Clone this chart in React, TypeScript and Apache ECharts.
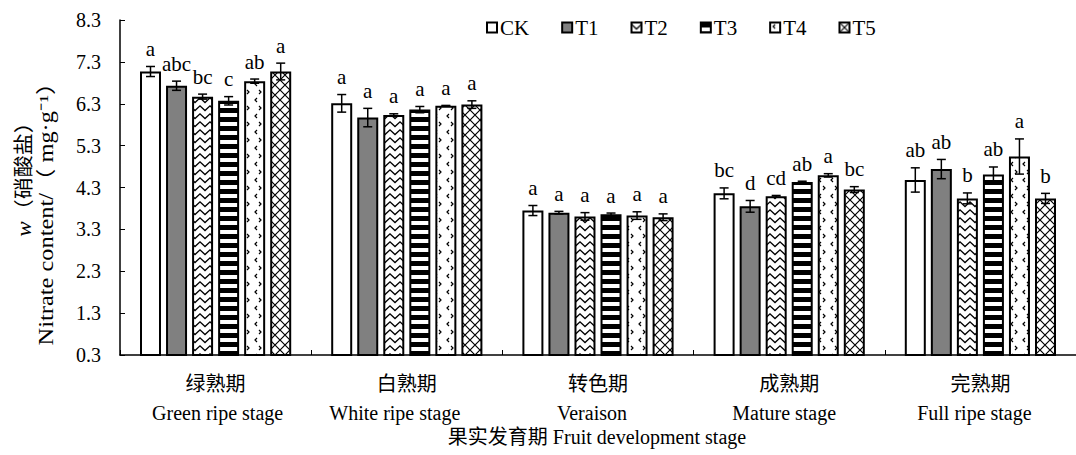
import React, { useEffect, useRef } from 'react';
import * as echarts from 'echarts';

const categoriesCn = ['绿熟期', '白熟期', '转色期', '成熟期', '完熟期'];
const categoriesEn = ['Green ripe stage', 'White ripe stage', 'Veraison', 'Mature stage', 'Full ripe stage'];
const seriesNames = ['CK', 'T1', 'T2', 'T3', 'T4', 'T5'];

const valuesCK = [7.07, 6.31, 3.75, 4.16, 4.48];
const valuesT1 = [6.73, 5.97, 3.70, 3.85, 4.74];
const valuesT2 = [6.47, 6.03, 3.61, 4.09, 4.04];
const valuesT3 = [6.37, 6.16, 3.66, 4.43, 4.61];
const valuesT4 = [6.84, 6.25, 3.63, 4.59, 5.04];
const valuesT5 = [7.07, 6.28, 3.59, 4.25, 4.04];

const errorsCK = [0.12, 0.21, 0.12, 0.13, 0.29];
const errorsT1 = [0.11, 0.22, 0.03, 0.14, 0.23];
const errorsT2 = [0.06, 0.03, 0.09, 0.02, 0.13];
const errorsT3 = [0.1, 0.075, 0.03, 0.02, 0.18];
const errorsT4 = [0.05, 0.01, 0.09, 0.04, 0.42];
const errorsT5 = [0.2, 0.09, 0.08, 0.07, 0.12];

const lettersCK = ['a', 'a', 'a', 'bc', 'ab'];
const lettersT1 = ['abc', 'a', 'a', 'd', 'ab'];
const lettersT2 = ['bc', 'a', 'a', 'cd', 'b'];
const lettersT3 = ['c', 'a', 'a', 'ab', 'ab'];
const lettersT4 = ['ab', 'a', 'a', 'a', 'a'];
const lettersT5 = ['a', 'a', 'a', 'bc', 'b'];

const yMin = 0.3;
const yMax = 8.3;
const yInterval = 1;

const allValues = [valuesCK, valuesT1, valuesT2, valuesT3, valuesT4, valuesT5];
const allErrors = [errorsCK, errorsT1, errorsT2, errorsT3, errorsT4, errorsT5];
const allLetters = [lettersCK, lettersT1, lettersT2, lettersT3, lettersT4, lettersT5];

const SERIF = '"Liberation Serif", "Times New Roman", serif';
const CJK = '"Liberation Serif", "Noto Sans CJK SC", serif';

function makePattern(kind: string): any {
  const c = document.createElement('canvas');
  let w = 10;
  let h = 10;
  if (kind === 'chevron') { w = 10; h = 8; }
  if (kind === 'stripes') { w = 4; h = 9; }
  if (kind === 'dots') { w = 12; h = 16; }
  if (kind === 'cross') { w = 10; h = 10; }
  c.width = w;
  c.height = h;
  const g = c.getContext('2d')!;
  g.fillStyle = '#fff';
  g.fillRect(0, 0, w, h);
  g.strokeStyle = '#000';
  g.fillStyle = '#000';
  if (kind === 'chevron') {
    g.lineWidth = 1.3;
    g.beginPath();
    g.moveTo(-1, 1);
    g.lineTo(5, 6.5);
    g.lineTo(11, 1);
    g.stroke();
  } else if (kind === 'stripes') {
    g.fillRect(0, 0, w, 5);
  } else if (kind === 'dots') {
    g.lineWidth = 1.2;
    g.beginPath();
    g.moveTo(5, 2);
    g.lineTo(3, 4);
    g.lineTo(5, 6);
    g.moveTo(7, 10);
    g.lineTo(9, 12);
    g.lineTo(7, 14);
    g.stroke();
  } else if (kind === 'cross') {
    g.lineWidth = 1.2;
    g.beginPath();
    g.moveTo(-1, -1);
    g.lineTo(11, 11);
    g.moveTo(11, -1);
    g.lineTo(-1, 11);
    g.stroke();
  }
  return { image: c, repeat: 'repeat', imageWidth: w, imageHeight: h };
}

const enShift = [2, -12, -6, -5, -6];

export default function App() {
  const ref = useRef<HTMLDivElement>(null);
  useEffect(() => {
    if (!ref.current) return;
    const chart = echarts.init(ref.current, undefined, { renderer: 'svg' });
    const fills: any[] = [
      '#ffffff',
      '#808080',
      makePattern('chevron'),
      makePattern('stripes'),
      makePattern('dots'),
      makePattern('cross'),
    ];
    const barWidth = 21;
    const gapRatio = 0.24;
    const step = barWidth * (1 + gapRatio);

    const barSeries = seriesNames.map((name, s) => ({
      name,
      type: 'bar',
      barWidth,
      barGap: gapRatio * 100 + '%',
      data: allValues[s],
      itemStyle: { color: fills[s], borderColor: '#000', borderWidth: 2 },
      z: 2,
    }));

    const errSeries = seriesNames.map((name, s) => ({
      name: 'err-' + name,
      type: 'custom',
      z: 5,
      clip: false,
      data: allValues[s].map((v, i) => [i, v, allErrors[s][i]]),
      renderItem: (params: any, api: any) => {
        const ci = api.value(0);
        const v = api.value(1);
        const e = api.value(2);
        const c = api.coord([ci, v]);
        const x = c[0] + (s - 2.5) * step;
        const yTop = api.coord([ci, v + e])[1];
        const yBot = api.coord([ci, v - e])[1];
        const half = 4.5;
        const st = { stroke: '#000', lineWidth: 1.5 };
        return {
          type: 'group',
          children: [
            { type: 'line', shape: { x1: x, y1: yTop, x2: x, y2: yBot }, style: st },
            { type: 'line', shape: { x1: x - half, y1: yTop, x2: x + half, y2: yTop }, style: st },
            { type: 'line', shape: { x1: x - half, y1: yBot, x2: x + half, y2: yBot }, style: st },
            {
              type: 'text',
              x,
              y: yTop - 7,
              style: {
                text: allLetters[s][params.dataIndex],
                align: 'center',
                verticalAlign: 'bottom',
                textAlign: 'center',
                textVerticalAlign: 'bottom',
                fontSize: 21,
                fontFamily: SERIF,
                fill: '#000',
              },
            },
          ],
        };
      },
    }));

    const rich: any = {
      cn: { fontSize: 20, fontFamily: CJK, color: '#000', lineHeight: 29 },
    };
    enShift.forEach((d, i) => {
      rich['en' + i] = {
        fontSize: 20,
        fontFamily: SERIF,
        color: '#000',
        lineHeight: 29,
        padding: d < 0 ? [0, -2 * d, 0, 0] : [0, 0, 0, 2 * d],
      };
    });

    chart.setOption({
      animation: false,
      backgroundColor: '#ffffff',
      legend: {
        data: seriesNames,
        left: 486,
        top: 17,
        icon: 'rect',
        itemWidth: 10,
        itemHeight: 10,
        itemGap: 32,
        padding: 0,
        textStyle: { fontSize: 21, fontFamily: SERIF, color: '#000', padding: [0, 0, 0, -2] },
      },
      grid: { left: 120, top: 20, width: 965, height: 335, containLabel: false },
      xAxis: {
        type: 'category',
        data: categoriesCn,
        boundaryGap: true,
        axisLine: { show: true, lineStyle: { color: '#000', width: 1.5 } },
        axisTick: { show: true, inside: true, length: 5, lineStyle: { color: '#000', width: 1 } },
        axisLabel: {
          margin: 14,
          interval: 0,
          formatter: (v: string, i: number) => `{cn|${v}}\n{en${i}|${categoriesEn[i]}}`,
          rich,
        },
      },
      yAxis: {
        type: 'value',
        min: yMin,
        max: yMax,
        interval: yInterval,
        splitLine: { show: false },
        axisLine: { show: true, lineStyle: { color: '#000', width: 1.5 } },
        axisTick: { show: true, inside: true, length: 5, lineStyle: { color: '#000', width: 1 } },
        axisLabel: {
          margin: 19,
          fontSize: 20,
          fontFamily: SERIF,
          color: '#000',
          formatter: (v: number) => v.toFixed(1),
        },
      },
      graphic: [
        {
          type: 'text',
          x: 24,
          y: 174,
          rotation: Math.PI / 2,
          scaleX: 1.1,
          style: {
            text: '{i|w}（硝酸盐）',
            rich: { i: { fontStyle: 'italic', fontSize: 21, fontFamily: SERIF, fill: '#000' } },
            fontSize: 20,
            fontFamily: CJK,
            fill: '#000',
            align: 'center',
            verticalAlign: 'middle',
          },
        },
        {
          type: 'text',
          x: 46,
          y: 208,
          rotation: Math.PI / 2,
          scaleX: 1.22,
          style: {
            text: 'Nitrate content/（ mg·g⁻¹）',
            fontSize: 20,
            fontFamily: CJK,
            fill: '#000',
            align: 'center',
            verticalAlign: 'middle',
          },
        },
        {
          type: 'text',
          x: 597,
          y: 437,
          style: {
            text: '果实发育期 Fruit development stage',
            fontSize: 20,
            fontFamily: CJK,
            fill: '#000',
            align: 'center',
            verticalAlign: 'middle',
          },
        },
      ],
      series: [...barSeries, ...errSeries],
    });
    return () => chart.dispose();
  }, []);
  return (
    <div
      ref={ref}
      style={{ position: 'fixed', left: 0, top: 0, width: '1076px', height: '455px', background: '#fff' }}
    />
  );
}
